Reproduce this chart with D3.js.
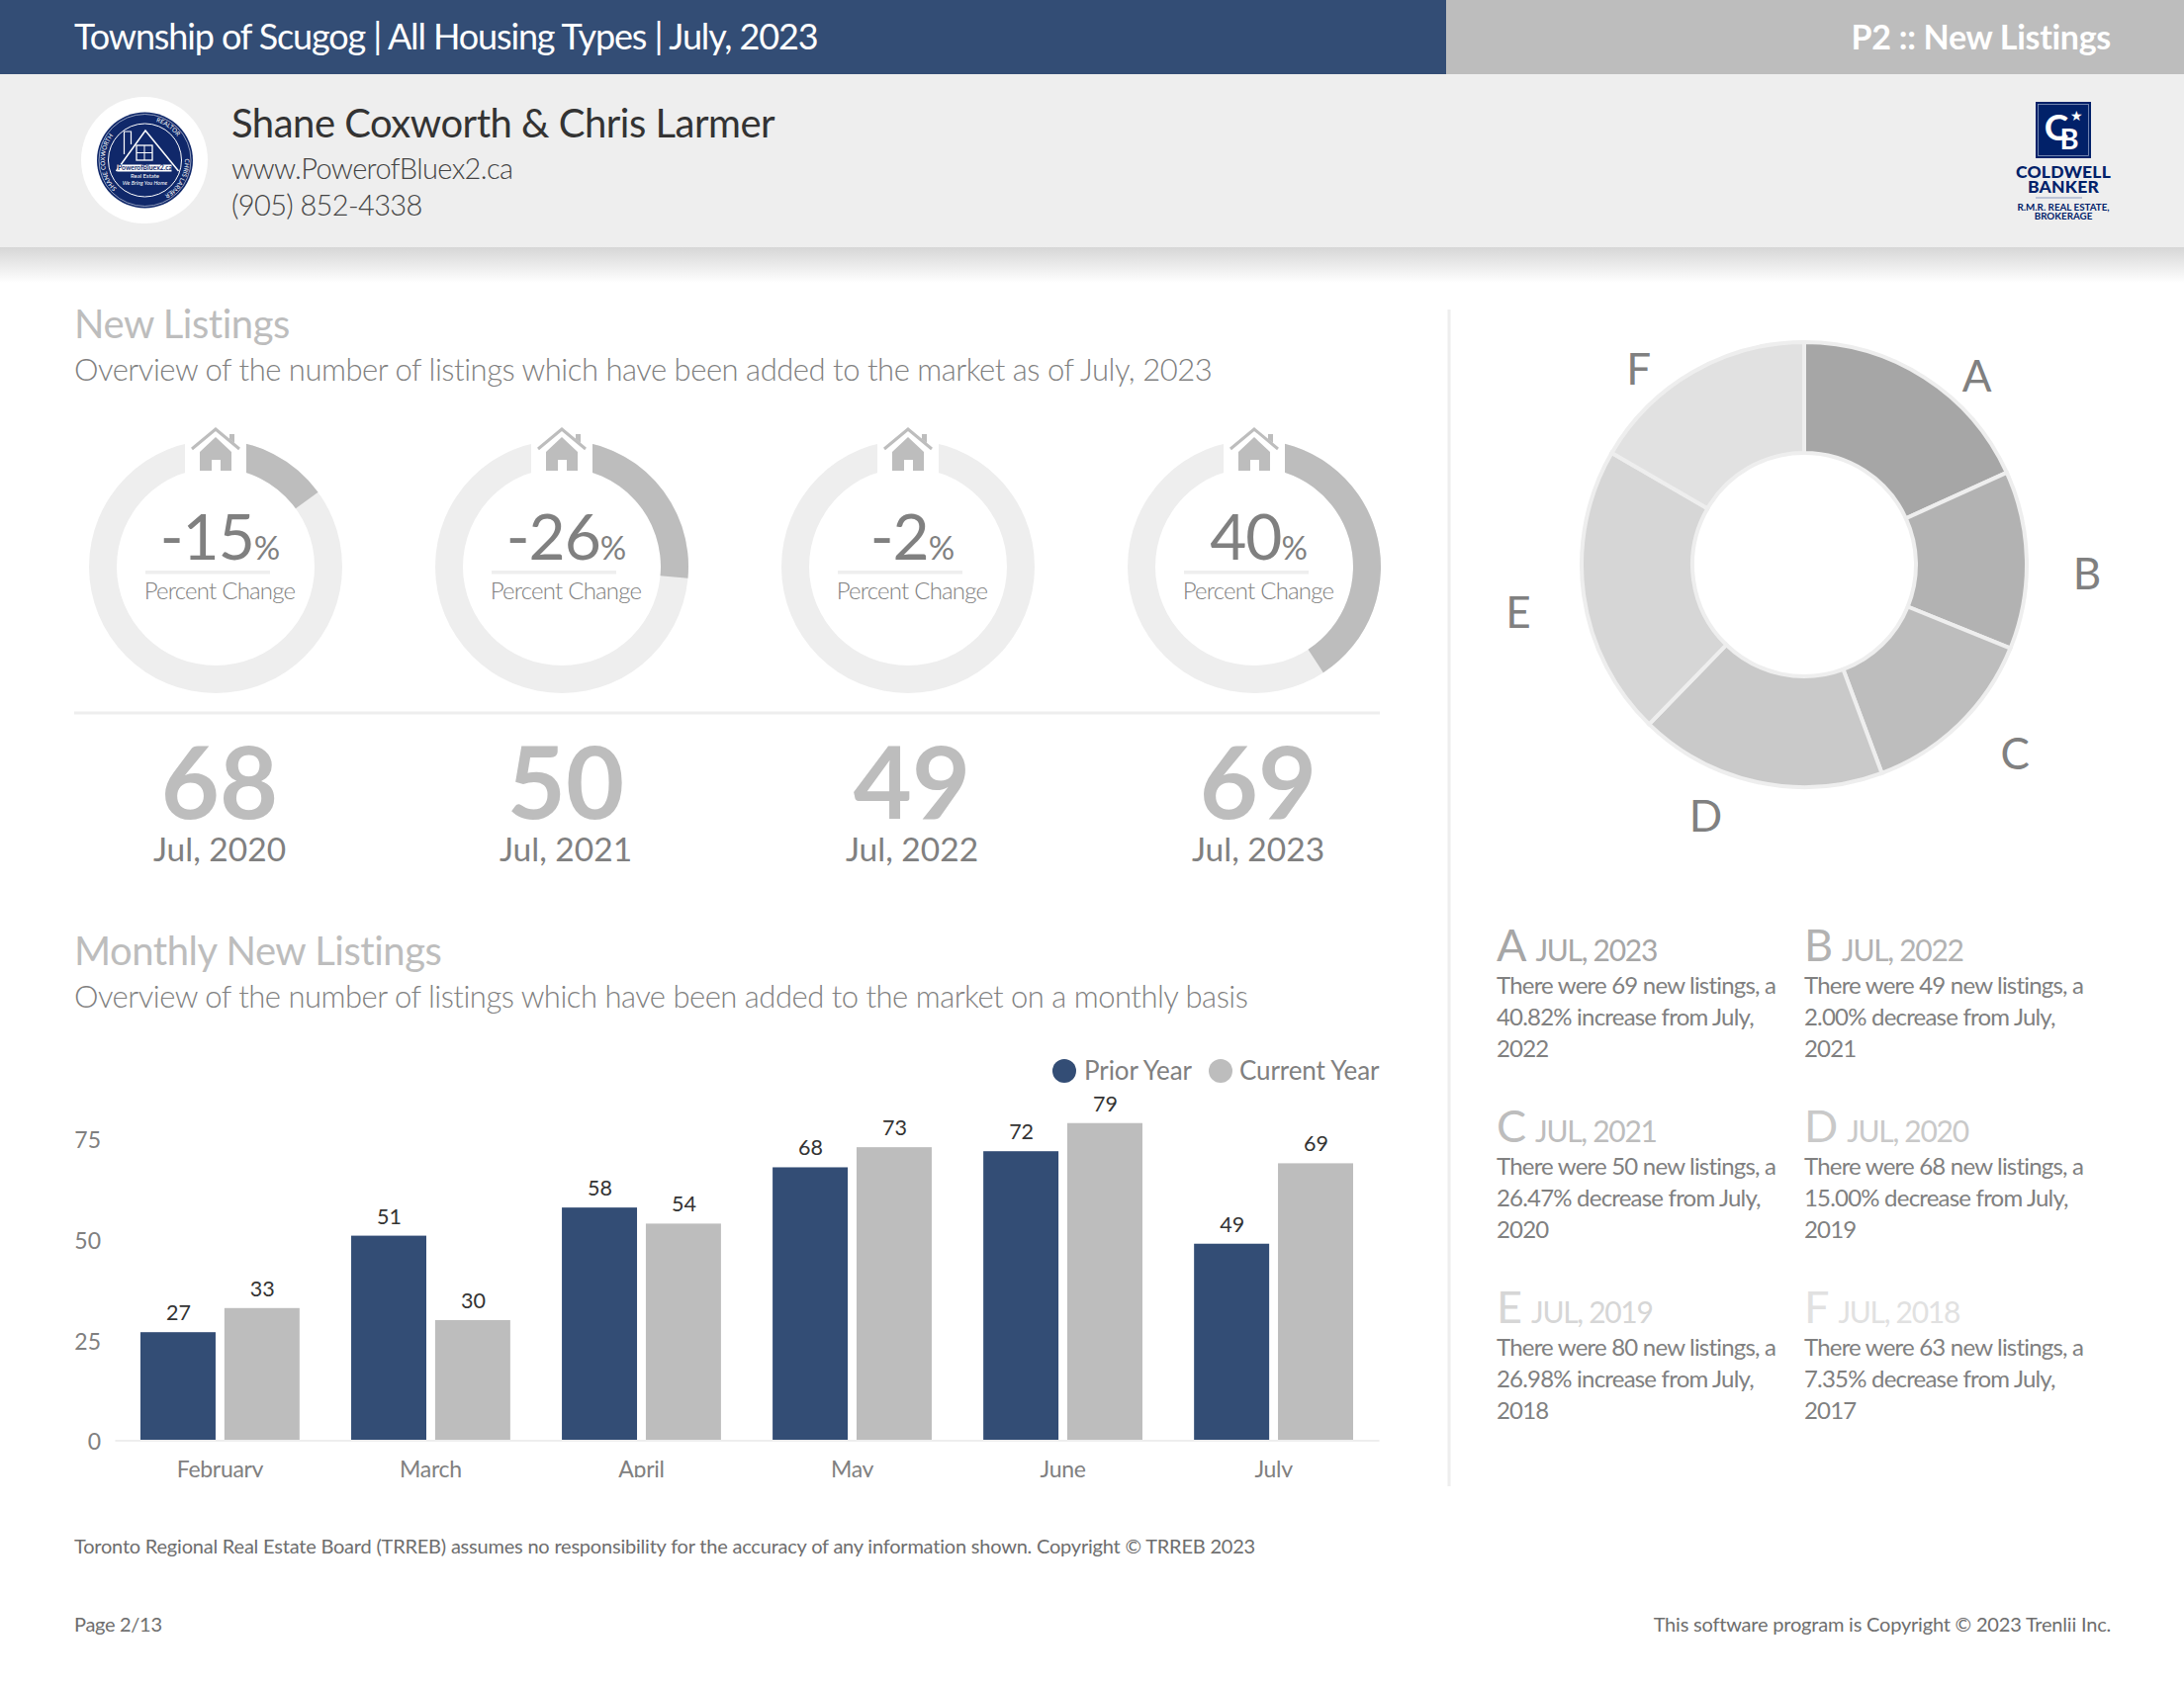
<!DOCTYPE html>
<html>
<head>
<meta charset="utf-8">
<script src="https://d3js.org/d3.v7.min.js"></script>
<style>
html, body { margin: 0; padding: 0; background: #fff; }
text { font-family: Lato, "Open Sans", sans-serif; }
</style>
</head>
<body>
<div id="vis"></div>
<script>
// gauges
var gauge_values = [68, 50, 49, 69];
var gauge_dates = ['Jul, 2020', 'Jul, 2021', 'Jul, 2022', 'Jul, 2023'];
var gauge_change = [-15, -26, -2, 40];
var gauge_fill = [15, 26.47, 2, 40.82];

// bars
var months = ['February', 'March', 'April', 'May', 'June', 'July'];
var prior_year = [27, 51, 58, 68, 72, 49];
var current_year = [33, 30, 54, 73, 79, 69];
var y_ticks = [0, 25, 50, 75];
var series_names = ['Prior Year', 'Current Year'];

// donut + notes
var slice_letters = ['A', 'B', 'C', 'D', 'E', 'F'];
var slice_values = [69, 49, 50, 68, 80, 63];
var slice_dates = ['JUL, 2023', 'JUL, 2022', 'JUL, 2021', 'JUL, 2020', 'JUL, 2019', 'JUL, 2018'];
var slice_notes = [
    ['There were 69 new listings, a', '40.82% increase from July,', '2022'],
    ['There were 49 new listings, a', '2.00% decrease from July,', '2021'],
    ['There were 50 new listings, a', '26.47% decrease from July,', '2020'],
    ['There were 68 new listings, a', '15.00% decrease from July,', '2019'],
    ['There were 80 new listings, a', '26.98% increase from July,', '2018'],
    ['There were 63 new listings, a', '7.35% decrease from July,', '2017']
];

var blue = '#334d75', grey = '#bdbdbd', pale = '#eeeeee', text_grey = '#808080', navy = '#012169', badge_navy = '#10286a';
var slice_colours = ['#a6a6a6', '#b2b2b2', '#bdbdbd', '#c9c9c9', '#d6d6d6', '#e1e1e1'];

var svg = d3.select('#vis')
    .append('svg')
    .attr('width', 2208)
    .attr('height', 1704)
    .style('display', 'block');

function label(parent, x, y, str, size, fill, weight, anchor, spacing) {
    return parent.append('text')
        .attr('x', x)
        .attr('y', y)
        .attr('font-size', size)
        .attr('fill', fill)
        .attr('font-weight', weight || 400)
        .attr('text-anchor', anchor || 'start')
        .attr('letter-spacing', spacing || 0)
        .text(str);
}

// header bands
var defs = svg.append('defs');
var shadow = defs.append('linearGradient')
    .attr('id', 'shadow')
    .attr('x1', 0).attr('x2', 0).attr('y1', 0).attr('y2', 1);
shadow.append('stop').attr('offset', 0).attr('stop-color', '#d6d6d6');
shadow.append('stop').attr('offset', 1).attr('stop-color', '#ffffff');

svg.append('rect').attr('width', 1462).attr('height', 75).attr('fill', blue);
svg.append('rect').attr('x', 1462).attr('width', 746).attr('height', 75).attr('fill', grey);
svg.append('rect').attr('y', 75).attr('width', 2208).attr('height', 175).attr('fill', pale);
svg.append('rect').attr('y', 250).attr('width', 2208).attr('height', 36).attr('fill', 'url(#shadow)');

label(svg, 75, 50, 'Township of Scugog | All Housing Types | July, 2023', 36, '#fff', 400, 'start', -1.13);
label(svg, 2134, 50, 'P2 :: New Listings', 34, '#fff', 700, 'end', -0.3);
label(svg, 234, 139, 'Shane Coxworth & Chris Larmer', 40, '#333', 400, 'start', -0.5);
label(svg, 234, 181, 'www.PowerofBluex2.ca', 29, '#444', 300, 'start', -0.63);
label(svg, 234, 218, '(905) 852-4338', 29, '#444', 300, 'start', -0.65);

// agent badge
svg.append('circle').attr('cx', 146).attr('cy', 162).attr('r', 64).attr('fill', '#fff');
var badge = svg.append('g').attr('transform', 'translate(146.5,162)');
badge.append('circle').attr('r', 48.5).attr('fill', badge_navy);
badge.append('circle').attr('r', 46.5).attr('fill', 'none').attr('stroke', '#c9d0e0').attr('stroke-width', 0.7);
badge.append('circle').attr('r', 37).attr('fill', 'none').attr('stroke', '#fff').attr('stroke-width', 1);
defs.append('path').attr('id', 'badge-ring').attr('d', 'M-28.6,28.6A40.5,40.5 0 1 1 28.6,28.6A40.5,40.5 0 0 1 -28.6,28.6');
[['SHANE COXWORTH', '0%'], ['REALTOR', '42%'], ['CHRIS LARMER', '62%']].forEach(function(part) {
    badge.append('text')
        .attr('font-size', 6.2)
        .attr('fill', '#fff')
        .append('textPath')
        .attr('href', '#badge-ring')
        .attr('startOffset', part[1])
        .text(part[0]);
});
badge.append('path').attr('d', 'M-29,11L0.5,-30L34,11').attr('fill', 'none').attr('stroke', '#fff').attr('stroke-width', 1.5);
badge.append('path').attr('d', 'M-21,-6V-29H-14V-16').attr('fill', 'none').attr('stroke', '#fff').attr('stroke-width', 1.2);
badge.append('rect').attr('x', -8.5).attr('y', -15).attr('width', 16).attr('height', 15).attr('fill', 'none').attr('stroke', '#fff').attr('stroke-width', 1.3);
badge.append('path').attr('d', 'M-0.5,-15V0M-8.5,-7.5H7.5').attr('stroke', '#fff').attr('stroke-width', 1);
badge.append('rect').attr('x', -28).attr('y', 4.5).attr('width', 55).attr('height', 7).attr('fill', '#fff');
label(badge, 0, 10.3, 'PowerofBluex2.ca', 6.8, badge_navy, 700, 'middle');
label(badge, 0, 18, 'Real Estate', 6, '#fff', 400, 'middle');
label(badge, 0, 25, 'We Bring You Home', 5.5, '#fff', 400, 'middle').attr('font-style', 'italic');

// brokerage logo
var cb = svg.append('g');
cb.append('rect').attr('x', 2058).attr('y', 103).attr('width', 56).attr('height', 57).attr('fill', navy);
cb.append('rect').attr('x', 2060.5).attr('y', 105.5).attr('width', 51).attr('height', 52).attr('fill', 'none').attr('stroke', '#8c9cc0').attr('stroke-width', 0.8);
label(cb, 2079, 142, 'C', 37, '#fff', 700, 'middle');
label(cb, 2092, 151, 'B', 29, '#fff', 700, 'middle');
label(cb, 2099, 122, '\u2605', 14, '#fff', 400, 'middle');
label(cb, 2086, 180, 'COLDWELL', 17.5, navy, 900, 'middle', 0.2);
label(cb, 2086, 195, 'BANKER', 17.5, navy, 900, 'middle', 0.2);
cb.append('rect').attr('x', 2058).attr('y', 199.5).attr('width', 47).attr('height', 1).attr('fill', '#8c9cc0');
label(cb, 2086, 213, 'R.M.R. REAL ESTATE,', 9.8, navy, 700, 'middle');
label(cb, 2086, 221.5, 'BROKERAGE', 9.8, navy, 700, 'middle');

// section headings
label(svg, 75, 342, 'New Listings', 40, grey, 400, 'start', -0.47);
label(svg, 75, 385, 'Overview of the number of listings which have been added to the market as of July, 2023', 31, text_grey, 300, 'start', -0.475);
label(svg, 75, 976, 'Monthly New Listings', 40, grey, 400, 'start', -0.47);
label(svg, 75, 1019, 'Overview of the number of listings which have been added to the market on a monthly basis', 31, text_grey, 300, 'start', -0.5);

// gauges
var gauge_x = d3.scalePoint().domain(gauge_dates).range([218, 1268]);
var percent_angle = d3.scaleLinear().domain([0, 100]).range([0, 2 * Math.PI]);
var gauge_arc = d3.arc().innerRadius(100).outerRadius(128).startAngle(0);

var gauges = svg.selectAll('.gauge')
    .data(gauge_dates)
    .enter()
    .append('g')
    .attr('class', 'gauge')
    .attr('transform', function(d) {
        return 'translate(' + gauge_x(d) + ',573)';
    });

gauges.append('path')
    .attr('d', gauge_arc({ endAngle: 2 * Math.PI }))
    .attr('fill', pale);

gauges.append('path')
    .attr('d', function(d, i) {
        return gauge_arc({ endAngle: percent_angle(gauge_fill[i]) });
    })
    .attr('fill', grey);

// gap for the house
gauges.append('rect')
    .attr('x', -31).attr('y', -135).attr('width', 62).attr('height', 45).attr('fill', '#fff');
gauges.append('path')
    .attr('d', 'M-24,-119L0,-139L24,-119')
    .attr('fill', 'none')
    .attr('stroke', grey)
    .attr('stroke-width', 3);
gauges.append('path')
    .attr('d', 'M14,-134h5v9l-5,-4Z')
    .attr('fill', grey);
gauges.append('path')
    .attr('d', 'M-16,-116L0,-131L16,-116V-97H5V-108H-4V-97H-16Z')
    .attr('fill', grey);

var gauge_text = svg.selectAll('.gauge-text')
    .data(gauge_dates)
    .enter()
    .append('g')
    .attr('class', 'gauge-text')
    .attr('transform', function(d) {
        return 'translate(' + (gauge_x(d) + 4) + ',0)';
    });

var pct = gauge_text.append('text')
    .attr('y', 566)
    .attr('text-anchor', 'middle')
    .attr('letter-spacing', -1)
    .attr('fill', text_grey);
pct.append('tspan')
    .attr('font-size', 64)
    .text(function(d, i) { return gauge_change[i]; });
pct.append('tspan')
    .attr('font-size', 33)
    .text('%');

gauge_text.append('rect')
    .attr('x', -75).attr('y', 577).attr('width', 126).attr('height', 3.5).attr('fill', pale);
gauge_text.append('text')
    .attr('y', 606)
    .attr('text-anchor', 'middle')
    .attr('font-size', 24)
    .attr('font-weight', 300)
    .attr('letter-spacing', -0.8)
    .attr('fill', text_grey)
    .text('Percent Change');
gauge_text.append('text')
    .attr('y', 828)
    .attr('text-anchor', 'middle')
    .attr('font-size', 102)
    .attr('font-weight', 700)
    .attr('fill', grey)
    .text(function(d, i) { return gauge_values[i]; });
gauge_text.append('text')
    .attr('y', 871)
    .attr('text-anchor', 'middle')
    .attr('font-size', 33.5)
    .attr('fill', text_grey)
    .text(function(d) { return d; });

svg.append('rect').attr('x', 75).attr('y', 719.5).attr('width', 1320).attr('height', 3).attr('fill', pale);
svg.append('rect').attr('x', 1463.5).attr('y', 313).attr('width', 3).attr('height', 1190).attr('fill', pale);

// bar chart
var x_scale = d3.scaleBand()
    .domain(months)
    .range([116, 1394])
    .paddingInner(0.245)
    .paddingOuter(0.122);
var inner_scale = d3.scaleBand()
    .domain(series_names)
    .range([0, x_scale.bandwidth()])
    .paddingInner(0.105);
var y_scale = d3.scaleLinear()
    .domain([0, 75])
    .range([1457, 1152]);

var y_axis = svg.append('g')
    .attr('class', 'y axis')
    .attr('transform', 'translate(116,1.5)')
    .call(d3.axisLeft(y_scale).tickValues(y_ticks).tickSize(0).tickPadding(14));
y_axis.select('.domain').remove();
y_axis.selectAll('text').attr('font-size', 23).attr('fill', text_grey).attr('font-family', 'Lato');

var groups = [
    { name: series_names[0], values: prior_year, colour: blue },
    { name: series_names[1], values: current_year, colour: grey }
];

groups.forEach(function(series) {
    svg.selectAll('.bar-' + series.colour.slice(1))
        .data(series.values)
        .enter()
        .append('rect')
        .attr('class', 'bar-' + series.colour.slice(1))
        .attr('x', function(d, i) { return x_scale(months[i]) + inner_scale(series.name); })
        .attr('y', function(d) { return y_scale(d); })
        .attr('width', inner_scale.bandwidth())
        .attr('height', function(d) { return y_scale(0) - y_scale(d); })
        .attr('fill', series.colour);

    svg.selectAll('.val-' + series.colour.slice(1))
        .data(series.values)
        .enter()
        .append('text')
        .attr('class', 'val-' + series.colour.slice(1))
        .attr('x', function(d, i) { return x_scale(months[i]) + inner_scale(series.name) + inner_scale.bandwidth() / 2 + 0.5; })
        .attr('y', function(d) { return y_scale(d) - 12; })
        .attr('text-anchor', 'middle')
        .attr('font-size', 21.5)
        .attr('fill', '#333')
        .text(function(d) { return d; });
});

// the month labels are cut off at the bottom in the original
defs.append('clipPath').attr('id', 'xclip')
    .append('rect').attr('x', 100).attr('y', -10).attr('width', 1320).attr('height', 47.5);

var x_axis = svg.append('g')
    .attr('class', 'x axis')
    .attr('clip-path', 'url(#xclip)')
    .attr('transform', 'translate(0,1456.5)')
    .call(d3.axisBottom(x_scale).tickSize(0).tickPadding(21));
x_axis.select('.domain').attr('stroke', pale).attr('stroke-width', 2);
x_axis.selectAll('text').attr('font-size', 23).attr('fill', text_grey).attr('font-family', 'Lato').attr('letter-spacing', -0.3);

// legend
svg.append('circle').attr('cx', 1076).attr('cy', 1083).attr('r', 12).attr('fill', blue);
label(svg, 1096, 1092, series_names[0], 26, text_grey, 400, 'start', -0.1);
svg.append('circle').attr('cx', 1234).attr('cy', 1083).attr('r', 12).attr('fill', grey);
label(svg, 1253, 1092, series_names[1], 26, text_grey, 400, 'start', -0.1);

// donut
var pie = d3.pie().sort(null).value(function(d) { return d; });
var donut_arc = d3.arc().innerRadius(113).outerRadius(225);
var donut = svg.append('g').attr('transform', 'translate(1824,571)');
var slices = pie(slice_values);

donut.selectAll('path')
    .data(slices)
    .enter()
    .append('path')
    .attr('d', donut_arc)
    .attr('fill', function(d, i) { return slice_colours[i]; })
    .attr('stroke', pale)
    .attr('stroke-width', 4);

// letters sit off the mid angle in the original, these nudge them into place
var letter_turn = [9.6, 3, -4, 9.5, -1.5, -10.3];
var letter_radius = [259, 286, 286, 273, 293, 259];

donut.selectAll('.letter')
    .data(slices)
    .enter()
    .append('text')
    .attr('class', 'letter')
    .attr('x', function(d, i) {
        var a = (d.startAngle + d.endAngle) / 2 + letter_turn[i] * Math.PI / 180;
        return Math.sin(a) * letter_radius[i];
    })
    .attr('y', function(d, i) {
        var a = (d.startAngle + d.endAngle) / 2 + letter_turn[i] * Math.PI / 180;
        return -Math.cos(a) * letter_radius[i] + 16;
    })
    .attr('text-anchor', 'middle')
    .attr('font-size', 44)
    .attr('fill', text_grey)
    .text(function(d, i) { return slice_letters[i]; });

// notes under the donut
var notes = svg.selectAll('.note')
    .data(slice_letters)
    .enter()
    .append('g')
    .attr('class', 'note')
    .attr('transform', function(d, i) {
        return 'translate(' + (i % 2 ? 1824 : 1513) + ',' + (972 + Math.floor(i / 2) * 183) + ')';
    });

var note_head = notes.append('text')
    .attr('fill', function(d, i) { return slice_colours[i]; });
note_head.append('tspan').attr('font-size', 45).text(function(d) { return d; });
note_head.append('tspan')
    .attr('font-size', 30)
    .attr('dx', 9)
    .attr('letter-spacing', -1.3)
    .text(function(d, i) { return slice_dates[i]; });

notes.each(function(d, i) {
    var g = d3.select(this);
    slice_notes[i].forEach(function(line, j) {
        label(g, 0, 33 + j * 32, line, 24, text_grey, 400, 'start', -0.8);
    });
});

// footer
label(svg, 75, 1571, 'Toronto Regional Real Estate Board (TRREB) assumes no responsibility for the accuracy of any information shown. Copyright \u00a9 TRREB 2023', 20, '#6e6e6e', 400, 'start', -0.21);
label(svg, 75, 1650, 'Page 2/13', 20, '#6e6e6e', 400, 'start', -0.3);
label(svg, 2134, 1650, 'This software program is Copyright \u00a9 2023 Trenlii Inc.', 20, '#6e6e6e', 400, 'end', -0.2);
</script>
</body>
</html>
